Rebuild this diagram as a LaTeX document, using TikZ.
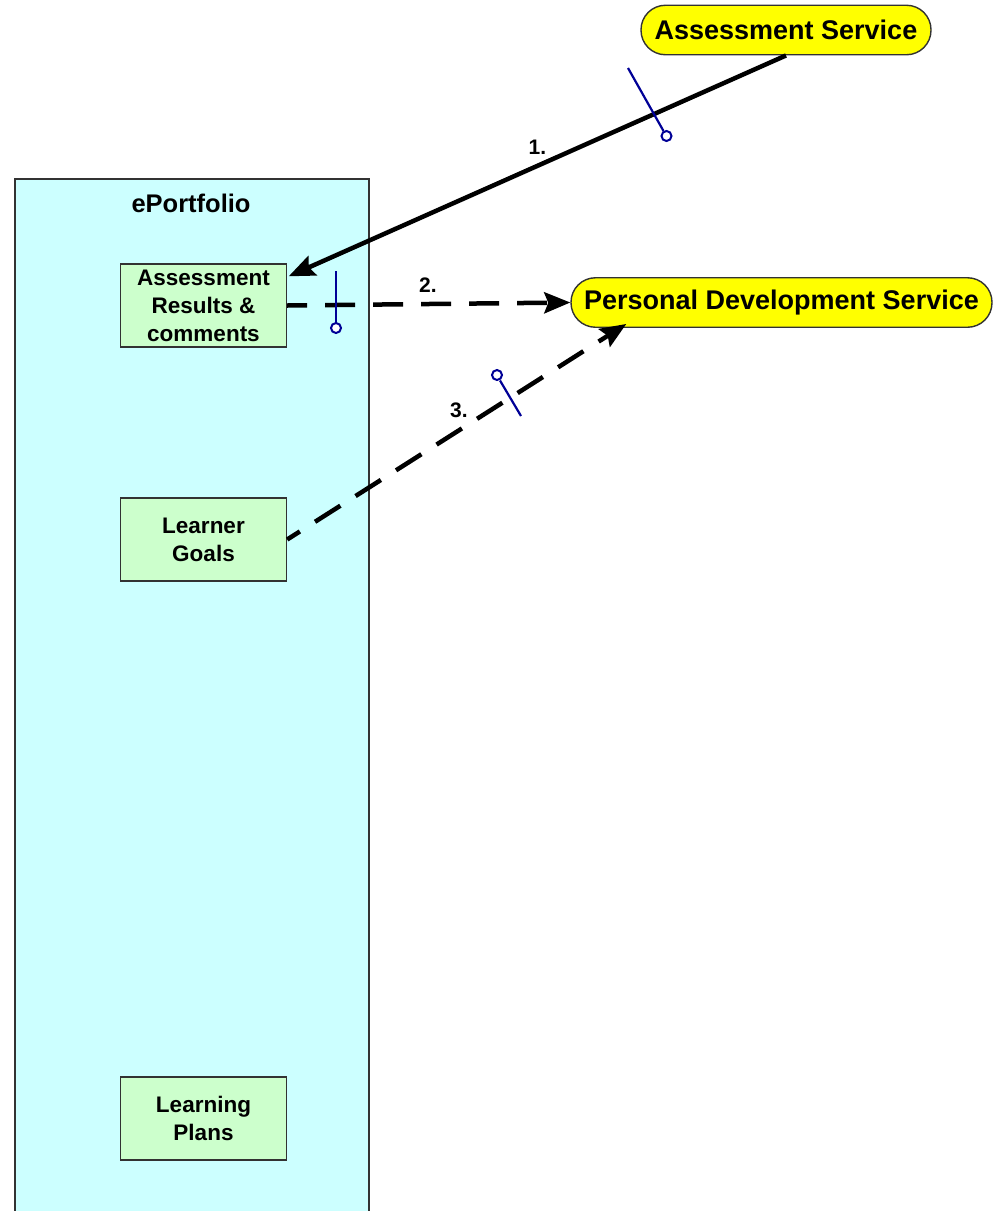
\documentclass[tikz,border=0pt]{standalone}
\usepackage{fontspec}
\setmainfont{Liberation Sans}
\usetikzlibrary{arrows.meta,calc}

\definecolor{portfoliofill}{RGB}{204,255,255}
\definecolor{itemfill}{RGB}{204,255,204}
\definecolor{servicefill}{RGB}{255,255,0}
\definecolor{edgegray}{RGB}{50,50,50}
\definecolor{plugblue}{RGB}{0,0,150}

\tikzset{
  itembox/.style={draw=edgegray, line width=1.4pt, fill=itemfill,
    minimum width=166pt, minimum height=83pt, inner sep=0pt,
    align=center, font=\bfseries\fontsize{22.5}{28}\selectfont},
  service/.style={draw=edgegray, line width=1.4pt, fill=servicefill,
    rounded corners=24.5pt, minimum height=49.5pt, inner sep=0pt,
    font=\bfseries\fontsize{27}{32}\selectfont},
  flow/.style={line width=4.5pt, -{Stealth[length=26pt,width=21pt,inset=4pt]}},
  dashflow/.style={flow, dash pattern=on 30pt off 18pt},
  steplabel/.style={font=\bfseries\fontsize{21}{24}\selectfont,
    fill=white, inner sep=0.5pt},
  plug/.style={draw=plugblue, line width=2.2pt},
  plughead/.style={draw=plugblue, line width=2pt, fill=white}
}

\begin{document}
\begin{tikzpicture}[x=1pt,y=-1pt]
  \useasboundingbox (0,0) rectangle (1000,1211);
  \clip (0,0) rectangle (1000,1211);

  % ePortfolio container, running off the lower edge
  \draw[draw=edgegray, line width=1.6pt, fill=portfoliofill]
    (15,179) rectangle (369,1240);
  \node[anchor=base, font=\bfseries\fontsize{25.5}{30}\selectfont]
    (portfolio) at (191,212) {ePortfolio};

  % items held in the ePortfolio
  \node[itembox] (results) at (203.5,305.5) {Assessment\\Results \&\\comments};
  \node[itembox] (goals)   at (203.5,539.5) {Learner\\Goals};
  \node[itembox] (plans)   at (203.5,1118.5) {Learning\\Plans};

  % external services
  \node[service, minimum width=290pt] (assess) at (786,30) {Assessment Service};
  \node[service, minimum width=421pt] (pds) at (781.5,302.5) {Personal Development Service};

  % connector end points
  \coordinate (resultsIn) at ($(results.north east)+(1.5,13)$);
  \coordinate (pdsIn) at ($(pds.south west)+(56,-4)$);

  % 1. assessment results delivered into the ePortfolio
  \draw[flow] (assess.south) -- (resultsIn);
  % 2. results passed on to personal development
  \draw[dashflow, dash phase=10pt] (results.east) -- (pds.west);
  % 3. learner goals passed on to personal development
  \draw[dashflow, dash phase=15pt] (goals.east) -- (pdsIn);

  \node[steplabel] (l1) at (537.5,147.5) {1.};
  \node[steplabel, fill=none] (l2) at (428,285) {2.};
  \node[steplabel] (l3) at (459,410) {3.};

  % interface lollipops on the connectors
  \draw[plug] (628,68) -- (663.5,131);
  \draw[plughead] (666.5,136) circle (5pt);
  \draw[plug] (336,271) -- (336,322.5);
  \draw[plughead] (336,328) circle (5pt);
  \draw[plug] (500,380.5) -- (521,416);
  \draw[plughead] (497,375) circle (5pt);
\end{tikzpicture}
\end{document}
